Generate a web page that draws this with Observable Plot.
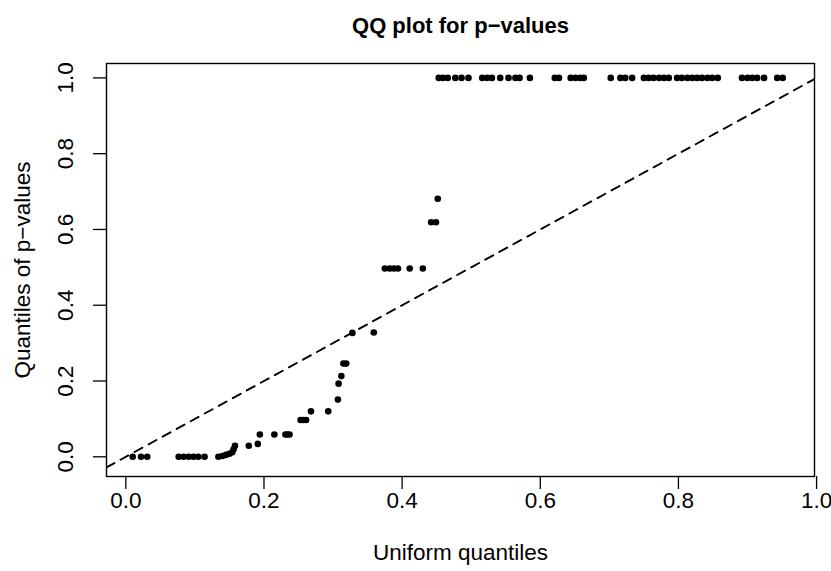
<!DOCTYPE html>
<html>
<head>
<meta charset="utf-8">
<script src="https://cdn.jsdelivr.net/npm/d3@7"></script>
<script src="https://cdn.jsdelivr.net/npm/@observablehq/plot@0.6"></script>
<style>
  html, body { margin: 0; padding: 0; background: white; }
</style>
</head>
<body>
<div id="chart"></div>
<script>
// Uniform quantiles (x) and quantiles of p-values (y)
const uniformQuantiles = [
  0.0099, 0.022, 0.031,
  0.0765, 0.0837, 0.091, 0.098, 0.105, 0.114,
  0.134, 0.140, 0.145, 0.150, 0.154, 0.156, 0.158,
  0.178, 0.191, 0.194, 0.215, 0.231, 0.234, 0.237,
  0.253, 0.257, 0.261,
  0.268, 0.293,
  0.307, 0.308, 0.312, 0.315, 0.319,
  0.328, 0.359,
  0.375, 0.382, 0.388, 0.394, 0.411, 0.430,
  0.442, 0.449, 0.4516,
  0.453, 0.459, 0.466, 0.477, 0.486, 0.496,
  0.516, 0.523, 0.530, 0.542, 0.554, 0.564, 0.570,
  0.585,
  0.621, 0.627, 0.644, 0.651, 0.658, 0.663,
  0.702, 0.716, 0.723, 0.733,
  0.750, 0.757, 0.764, 0.772, 0.779, 0.786,
  0.798, 0.805, 0.813, 0.820, 0.827, 0.834, 0.842, 0.849, 0.857,
  0.892, 0.900, 0.907, 0.914, 0.924,
  0.943, 0.951
];
const pValueQuantiles = [
  0, 0, 0,
  0, 0, 0, 0, 0, 0,
  0, 0.002, 0.005, 0.008, 0.012, 0.02, 0.029,
  0.029, 0.034, 0.059, 0.059, 0.059, 0.059, 0.059,
  0.097, 0.097, 0.097,
  0.12, 0.12,
  0.151, 0.193, 0.213, 0.246, 0.246,
  0.327, 0.328,
  0.497, 0.497, 0.497, 0.497, 0.497, 0.497,
  0.619, 0.619, 0.681,
  1, 1, 1, 1, 1, 1,
  1, 1, 1, 1, 1, 1, 1,
  1,
  1, 1, 1, 1, 1, 1,
  1, 1, 1, 1,
  1, 1, 1, 1, 1, 1,
  1, 1, 1, 1, 1, 1, 1, 1, 1,
  1, 1, 1, 1, 1,
  1, 1
];
const xTicks = [0, 0.2, 0.4, 0.6, 0.8, 1.0];
const yTicks = [0, 0.2, 0.4, 0.6, 0.8, 1.0];
const titleText = "QQ plot for p\u2212values";
const xLabel = "Uniform quantiles";
const yLabel = "Quantiles of p\u2212values";
const refIntercept = 0, refSlope = 1;

const points = uniformQuantiles.map((u, i) => ({u, p: pValueQuantiles[i]}));
const xDomain = [-0.028, 0.997];
const yDomain = [-0.052, 1.038];
const refLine = xDomain.map(x => ({x, y: refIntercept + refSlope * x}));
const fmt = d3.format(".1f");
const FS = 22.5;

const chart = Plot.plot({
  width: 831,
  height: 571,
  marginLeft: 106,
  marginRight: 17,
  marginTop: 63,
  marginBottom: 95,
  style: {fontFamily: "'Liberation Sans', Arial, Helvetica, sans-serif", fontSize: FS + "px", background: "white", color: "black"},
  x: {domain: xDomain},
  y: {domain: yDomain},
  marks: [
    Plot.line(refLine, {x: "x", y: "y", stroke: "black", strokeWidth: 1.9, strokeDasharray: "9,7", clip: true}),
    Plot.dot(points, {x: "u", y: "p", r: 3.3, fill: "black", stroke: "none"}),
    Plot.frame({stroke: "black", strokeWidth: 1.4}),
    Plot.axisX({ticks: xTicks, tickSize: 13, tickPadding: 3, tickFormat: fmt, label: null, fontSize: FS, strokeWidth: 1.3}),
    Plot.axisY({ticks: yTicks, tickSize: 13, tickFormat: () => "", label: null, strokeWidth: 1.3}),
    Plot.text(yTicks, {y: d => d, text: d => fmt(d), frameAnchor: "left", dx: -41, rotate: -90, textAnchor: "middle", lineAnchor: "middle", fontSize: FS}),
    Plot.text([xLabel], {frameAnchor: "bottom", dy: 76, textAnchor: "middle", lineAnchor: "middle", fontSize: FS}),
    Plot.text([yLabel], {frameAnchor: "left", dx: -84, rotate: -90, textAnchor: "middle", lineAnchor: "middle", fontSize: FS}),
    Plot.text([titleText], {frameAnchor: "top", dy: -38, textAnchor: "middle", lineAnchor: "middle", fontSize: 22, fontWeight: "bold"})
  ]
});
document.getElementById("chart").appendChild(chart);
</script>
</body>
</html>
